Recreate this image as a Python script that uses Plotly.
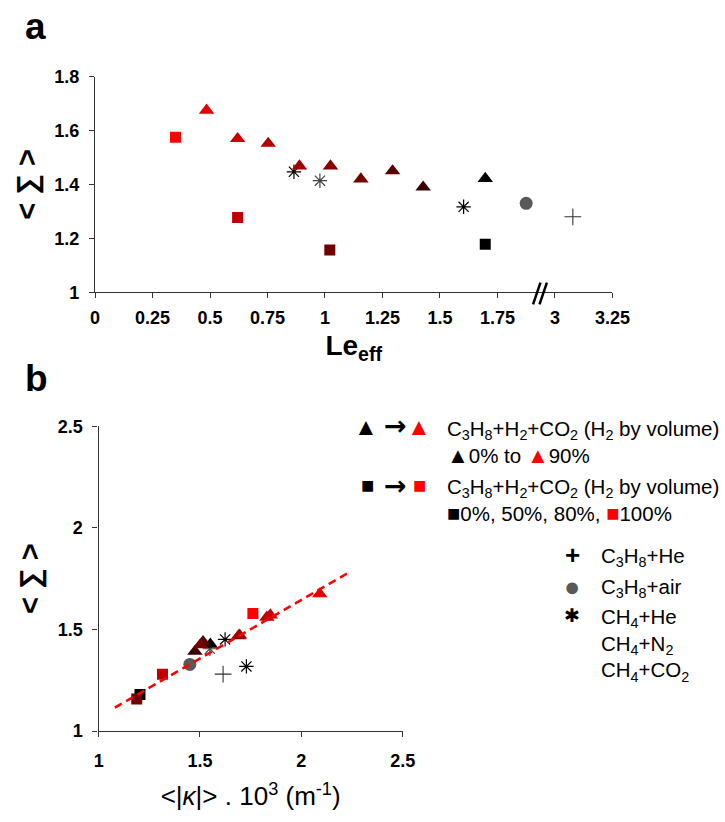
import plotly.graph_objects as go

# ---------------- data ----------------
# Triangles: C3H8+H2+CO2, H2 fraction from 0% (black) to 90% (red)
tri_colors = ['#000000', '#3A0000', '#580000', '#740000', '#860000',
              '#A00000', '#B40000', '#C80000', '#E60000']
tri_le = [1.697, 1.427, 1.294, 1.156, 1.024, 0.889, 0.753, 0.62, 0.485]
tri_sigma_a = [1.422, 1.39, 1.45, 1.42, 1.468, 1.468, 1.552, 1.57, 1.675]
tri_kappa = [1.551, 1.475, 1.515, 1.502, 1.690, 1.695, 1.830, 1.847, 2.091]
tri_sigma_b = [1.427, 1.392, 1.44, 1.424, 1.468, 1.472, 1.56, 1.571, 1.675]

# Squares: C3H8+H2+CO2, H2 0%, 50%, 80%, 100%
sq_colors = ['#000000', '#700000', '#C00000', '#FF0000']
sq_le = [1.697, 1.021, 0.62, 0.35]
sq_sigma_a = [1.178, 1.157, 1.277, 1.575]
sq_kappa = [1.204, 1.188, 1.315, 1.761]
sq_sigma_b = [1.18, 1.158, 1.28, 1.578]

# Asterisks: CH4+He, CH4+N2, CH4+CO2
ast_colors = ['#000000', '#444444', '#000000']
ast_le = [0.865, 0.978, 1.603]
ast_sigma_a = [1.447, 1.414, 1.317]
ast_kappa = [1.624, 1.549, 1.729]
ast_sigma_b = [1.451, 1.405, 1.318]

# Plus: C3H8+He ; Circle: C3H8+air
plus_le = [3.078]
plus_sigma_a = [1.28]
plus_kappa = [1.614]
plus_sigma_b = [1.28]
circ_le = [1.875]
circ_sigma_a = [1.33]
circ_kappa = [1.45]
circ_sigma_b = [1.328]

# linear trend (panel b), end points
trend_kappa = [1.08, 2.225]
trend_sigma = [1.115, 1.775]

# panel a x-axis ticks (axis broken between 1.75 and 3)
le_ticks = [0, 0.25, 0.5, 0.75, 1, 1.25, 1.5, 1.75, 3, 3.25]
BREAK_FROM, BREAK_TO = 3.0, 2.0   # Le=3 is drawn where 2.0 would be


def le_pos(v):
    return v - (BREAK_FROM - BREAK_TO) if v >= BREAK_FROM - 0.5 else v


def pos(vals):
    return [le_pos(v) for v in vals]


W, H = 725, 822
FONT = 'Liberation Sans, Arial, sans-serif'

fig = go.Figure()


def add_points(x, y, symbol, colors, size, xa, ya, open_=False, lw=1.2):
    if open_:
        marker = dict(symbol=symbol, size=size, color=colors,
                      line=dict(color=colors, width=lw))
    else:
        marker = dict(symbol=symbol, size=size, color=colors,
                      line=dict(width=0))
    fig.add_trace(go.Scatter(x=x, y=y, mode='markers', marker=marker,
                             xaxis=xa, yaxis=ya, showlegend=False,
                             hoverinfo='x+y'))


# ---- panel a ----
add_points(pos(ast_le), ast_sigma_a, 'asterisk-open', ast_colors, 12, 'x', 'y', True)
add_points(pos(tri_le), tri_sigma_a, 'triangle-up', tri_colors, 13.5, 'x', 'y')
add_points(pos(sq_le), sq_sigma_a, 'square', sq_colors, 11, 'x', 'y')
add_points(pos(circ_le), circ_sigma_a, 'circle', ['#595959'], 13, 'x', 'y')
add_points(pos(plus_le), plus_sigma_a, 'cross-thin-open', ['#333333'], 12, 'x', 'y', True, 1.1)

# ---- panel b ----
add_points(ast_kappa, ast_sigma_b, 'asterisk-open', ast_colors, 12, 'x2', 'y2', True)
add_points(sq_kappa, sq_sigma_b, 'square', sq_colors, 11, 'x2', 'y2')
add_points(circ_kappa, circ_sigma_b, 'circle', ['#595959'], 13, 'x2', 'y2')
add_points(plus_kappa, plus_sigma_b, 'cross-thin-open', ['#333333'], 12, 'x2', 'y2', True, 1.1)
add_points(tri_kappa, tri_sigma_b, 'triangle-up', tri_colors, 13.5, 'x2', 'y2')
fig.add_trace(go.Scatter(x=trend_kappa, y=trend_sigma, mode='lines',
                         line=dict(color='#FF0000', width=2.5, dash='8px,5px'),
                         xaxis='x2', yaxis='y2', showlegend=False, hoverinfo='skip'))

axis_common = dict(showline=True, linecolor='#333333', linewidth=1.3,
                   ticks='outside', ticklen=5, tickcolor='#333333', tickwidth=1.3,
                   showgrid=False, zeroline=False, mirror=False,
                   tickfont=dict(family=FONT, size=18, color='black', weight='bold'))

fig.update_layout(
    width=W, height=H,
    margin=dict(l=0, r=0, t=0, b=0),
    paper_bgcolor='white', plot_bgcolor='white',
    font=dict(family=FONT, color='black'),
    xaxis=dict(axis_common, domain=[93 / W, 627.3 / W], range=[0, 2.25],
               tickvals=pos(le_ticks), ticktext=[f'{t:g}' for t in le_ticks],
               ticklabelstandoff=4, anchor='y',
               title=dict(text='<b>Le<sub>eff</sub></b>',
                          font=dict(family=FONT, size=28), standoff=8)),
    yaxis=dict(axis_common, domain=[1 - 289.3 / H, 1 - 68.3 / H], range=[1, 1.8],
               tickvals=[1, 1.2, 1.4, 1.6, 1.8], ticktext=['1', '1.2', '1.4', '1.6', '1.8'],
               anchor='x', ticklabelstandoff=6,
               title=dict(text='<b>&lt; ∑ &gt;</b>', font=dict(family=FONT, size=29),
                          standoff=8)),
    xaxis2=dict(axis_common, domain=[96.7 / W, 410.7 / W], range=[1, 2.5],
                tickvals=[1, 1.5, 2, 2.5], ticktext=['1', '1.5', '2', '2.5'],
                anchor='y2', ticklabelstandoff=8,
                title=dict(text='&lt;|<i>κ</i>|&gt; . 10<sup>3</sup> (m<sup>-1</sup>)',
                           font=dict(family=FONT, size=26), standoff=17)),
    yaxis2=dict(axis_common, domain=[1 - 739 / H, 1 - 426.7 / H], range=[1, 2.5],
                tickvals=[1, 1.5, 2, 2.5], ticktext=['1', '1.5', '2', '2.5'],
                anchor='x2', ticklabelstandoff=6,
                title=dict(text='<b>&lt; ∑ &gt;</b>', font=dict(family=FONT, size=29),
                           standoff=8)),
)

# axis break marks
for x0, x1 in [(1.905, 1.937), (1.933, 1.965)]:
    fig.add_shape(type='line', xref='x', yref='y domain', x0=x0, x1=x1,
                  y0=-0.056, y1=0.045, line=dict(color='black', width=2.5))


def ann(x, y, text, size=20.5, anchor='left', bold=False, family=FONT, yanchor='middle'):
    if bold:
        text = f'<b>{text}</b>'
    fig.add_annotation(x=x / W, y=1 - y / H, xref='paper', yref='paper',
                       text=text, showarrow=False, xanchor=anchor, yanchor=yanchor,
                       align='left', borderpad=0,
                       font=dict(family=family, size=size, color='black'))


# panel letters
ann(20, 17, 'a', size=37, bold=True)
ann(20, 378, 'b', size=37, bold=True)

# legend block
RED = '#FF0000'
TRI = 24
SQ = 22
SUB = 'C<sub>3</sub>H<sub>8</sub>+H<sub>2</sub>+CO<sub>2</sub> (H<sub>2</sub> by volume)'
ARROW_FONT = 'DejaVu Sans, sans-serif'

ann(373, 427, '▲', size=TRI, anchor='center')
ann(403, 426, '→', size=27, anchor='center', bold=True, family=ARROW_FONT)
ann(428, 427, f'<span style="color:{RED}">▲</span>', size=TRI, anchor='center')
ann(455, 416, SUB + '<br>'
    f'<span style="font-size:22px">▲</span>0% to '
    f'<span style="color:{RED};font-size:22px">▲</span>90%', yanchor='top')

ann(374, 487, '■', size=SQ, anchor='center')
ann(403, 487, '→', size=27, anchor='center', bold=True, family=ARROW_FONT)
ann(428, 487, f'<span style="color:{RED}">■</span>', size=SQ, anchor='center')
ann(455, 476, SUB + '<br>'
    f'<span style="font-size:22px">■</span>0%, 50%, 80%, '
    f'<span style="color:{RED};font-size:22px">■</span>100%', yanchor='top')

ann(586, 559, '+', size=26, anchor='center', bold=True)
ann(614, 561, 'C<sub>3</sub>H<sub>8</sub>+He')
ann(586, 591, '<span style="color:#595959">●</span>', size=27, anchor='center')
ann(614, 592, 'C<sub>3</sub>H<sub>8</sub>+air')
ann(586, 621, '✱', size=19, anchor='center')
ann(614, 609, 'CH<sub>4</sub>+He<br>CH<sub>4</sub>+N<sub>2</sub><br>CH<sub>4</sub>+CO<sub>2</sub>',
    yanchor='top')

fig.write_html('out.html')
